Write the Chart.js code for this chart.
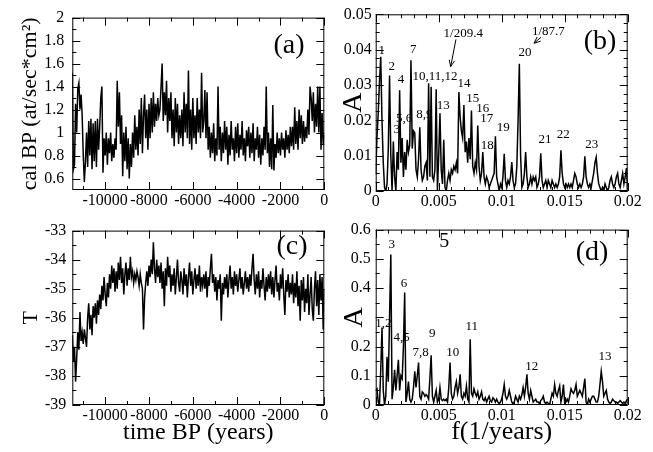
<!DOCTYPE html>
<html>
<head>
<meta charset="utf-8">
<script src="https://cdn.jsdelivr.net/npm/chart.js@4.4.1/dist/chart.umd.min.js"></script>
<style>
  body { margin: 0; background: #fff; }
  .panel { position: absolute; }
</style>
</head>
<body>
<div class="panel" style="left:0;top:0;width:330px;height:215px"><canvas id="chartA"></canvas></div>
<div class="panel" style="left:330px;top:0;width:323px;height:215px"><canvas id="chartB"></canvas></div>
<div class="panel" style="left:0;top:215px;width:330px;height:237px"><canvas id="chartC"></canvas></div>
<div class="panel" style="left:330px;top:215px;width:323px;height:237px"><canvas id="chartD"></canvas></div>
<script>
// time grid for (a) and (c): -11500 .. 0 every 50 years
const timeStart = -11500;
const timeStep = 50;
// frequency grid for (b) and (d): 0 .. 0.02 every 0.0001
const freqStep = 0.0001;

// (a) cal BP, at/sec*cm^2
const calBP = [
  1.52,0.68,0.72,1.25,1.0,1.38,1.43,1.2,1.33,1.15,0.8,0.57,0.75,1.0,0.7,1.1,0.8,1.12,0.68,1.08,
  0.75,1.1,0.7,1.12,0.85,1.05,1.3,1.4,0.65,0.95,0.8,1.0,0.72,0.95,0.82,1.0,0.75,0.9,0.78,0.95,
  0.85,1.45,1.05,1.35,0.9,1.15,0.62,1.0,0.75,1.05,0.68,0.95,0.6,0.9,0.7,1.0,0.78,1.15,0.85,1.05,
  0.8,1.2,0.9,1.3,0.82,1.15,1.33,0.95,1.2,0.85,1.25,0.95,1.3,1.0,1.35,1.05,1.25,1.1,1.3,1.15,
  1.2,1.4,1.6,1.1,1.35,1.15,1.45,1.0,1.3,1.1,1.35,0.95,1.2,0.88,1.3,1.0,1.25,0.9,1.15,0.95,
  1.2,0.88,1.35,1.0,1.25,0.95,1.54,0.9,1.2,0.85,1.3,0.95,1.15,0.9,1.3,1.0,1.2,0.95,1.52,1.0,
  1.1,1.37,0.95,1.35,0.85,1.05,0.78,1.0,0.82,1.08,0.75,0.95,0.8,1.4,0.85,1.05,0.75,1.0,0.82,1.1,
  0.85,1.05,0.72,0.98,0.8,1.1,0.85,0.95,0.75,1.05,0.82,1.08,0.78,0.98,0.85,1.1,0.8,0.95,0.75,1.02,
  0.88,1.05,0.78,1.0,0.82,1.08,0.75,0.95,0.85,1.05,0.78,0.98,0.72,0.95,0.8,1.05,0.85,1.4,0.82,1.0,
  0.7,0.95,0.68,1.24,0.67,0.9,0.78,1.0,0.82,0.95,0.8,1.0,0.85,0.95,0.78,1.02,0.85,0.98,0.82,1.05,
  0.88,1.05,0.85,1.22,0.9,1.1,0.85,1.2,0.95,1.15,0.9,1.1,0.92,1.05,0.95,1.2,0.98,1.4,1.3,1.1,
  1.35,1.0,1.25,1.05,1.4,1.0,1.4,0.85,1.17,0.9,0.98
];

// (c) temperature T
const tempT = [
  -36.6,-37.5,-37.0,-38.2,-37.4,-36.5,-37.1,-35.8,-36.8,-36.5,-36.9,-36.4,-36.7,-37.0,-36.0,-35.5,-36.4,-35.9,-36.6,-35.6,
  -36.0,-35.5,-36.2,-35.4,-35.9,-35.2,-35.7,-34.9,-35.4,-34.6,-35.2,-35.6,-34.8,-35.3,-34.5,-35.0,-34.2,-34.8,-34.3,-35.1,
  -34.4,-35.0,-34.1,-34.7,-33.9,-34.8,-34.3,-35.2,-34.5,-34.1,-34.9,-34.3,-34.7,-33.9,-34.6,-34.4,-34.8,-34.5,-34.7,-34.4,
  -34.6,-34.9,-34.5,-34.8,-35.0,-36.4,-35.3,-34.8,-34.4,-34.9,-34.2,-34.6,-34.0,-34.5,-33.4,-34.3,-34.8,-34.0,-34.6,-34.2,
  -34.8,-34.1,-35.0,-34.4,-35.6,-34.3,-34.9,-33.9,-34.6,-34.2,-35.1,-34.5,-34.9,-34.3,-35.2,-34.6,-34.0,-34.8,-35.1,-34.4,
  -34.7,-35.2,-34.3,-34.9,-34.5,-35.3,-34.6,-34.1,-34.9,-34.4,-35.2,-34.7,-34.3,-35.0,-34.5,-34.9,-34.2,-35.1,-34.6,-34.9,
  -34.5,-35.0,-34.4,-35.3,-34.6,-34.9,-34.3,-33.8,-34.8,-34.5,-35.1,-34.6,-35.4,-34.7,-35.0,-34.5,-36.1,-34.8,-35.2,-34.6,
  -35.0,-34.5,-35.3,-34.7,-34.2,-35.0,-34.6,-35.2,-34.4,-34.9,-34.5,-35.1,-34.7,-34.3,-35.0,-34.6,-35.2,-34.8,-34.4,-35.0,
  -34.6,-35.1,-34.5,-34.9,-34.3,-33.8,-34.7,-35.2,-34.5,-35.0,-34.4,-35.3,-34.7,-35.0,-34.3,-34.9,-35.4,-34.6,-35.1,-34.5,
  -35.0,-34.4,-35.2,-34.6,-35.3,-34.7,-34.2,-35.1,-34.8,-35.4,-34.5,-35.0,-34.3,-35.2,-35.9,-34.7,-35.1,-34.5,-35.3,-34.8,
  -35.2,-34.5,-35.5,-34.8,-35.3,-34.4,-35.6,-34.9,-36.1,-34.7,-35.4,-34.6,-35.8,-35.0,-35.5,-34.5,-35.9,-35.2,-34.6,-35.7,
  -36.1,-35.0,-34.4,-35.6,-34.7,-35.9,-34.5,-35.4,-34.6,-36.4,-35.0
];

// (b) amplitude spectrum of cal BP
const ampB = [
  0.005,0.015,0.022,0.031,0.038,0.02,0.008,0.001,0,0.002,
  0.012,0.0327,0.01,0,0.014,0.004,0,0.011,0.006,0.0285,
  0.008,0.015,0.004,0.011,0.006,0.0145,0.011,0.013,0.037,0.012,
  0.017,0.0165,0.006,0.004,0.009,0.018,0.006,0.003,0.004,0.007,
  0.008,0.003,0.0305,0.004,0.0295,0.004,0.003,0.006,0.0288,0,
  0.01,0.022,0.006,0.002,0.0145,0.001,0,0.003,0.005,0.003,
  0.006,0.005,0.007,0.006,0.008,0.005,0.028,0.021,0.017,0.015,
  0.0243,0.011,0.014,0.008,0.015,0.009,0.0228,0.007,0.005,0.008,
  0.006,0.0185,0.007,0.003,0.005,0.011,0.004,0.002,0.004,0.003,
  0.001,0.002,0.003,0.004,0.005,0.0155,0.004,0.002,0,0.002,
  0.001,0.004,0.0105,0.003,0.001,0.003,0.002,0.004,0.0082,0.003,
  0.001,0.002,0.007,0.02,0.036,0.01,0.001,0.002,0.005,0.011,
  0.004,0.001,0.002,0.004,0.002,0.004,0.003,0.004,0.001,0.002,
  0.004,0.0107,0.003,0.001,0.002,0.003,0.001,0.003,0.002,0.001,
  0.003,0.002,0.001,0.002,0.001,0.002,0.004,0.0115,0.005,0.002,
  0.001,0.002,0.001,0.002,0.001,0.002,0.001,0.003,0.005,0.004,
  0.002,0.001,0.002,0.001,0.002,0.004,0.0098,0.004,0.002,0.001,
  0.002,0.001,0.003,0.005,0.008,0.0095,0.005,0.002,0.001,0,
  0.001,0,0.002,0.001,0,0.001,0.003,0.004,0.002,0.001,
  0.002,0.004,0.005,0.002,0.001,0.003,0.005,0.002,0.004,0.0065,0
];

// (d) amplitude spectrum of T
const ampD = [
  0.05,0.055,0.01,0,0.12,0.265,0.05,0,0.03,0.165,
  0.08,0.3,0.515,0.02,0.06,0.12,0.05,0.1,0.155,0.05,
  0.1,0.09,0.2,0.385,0.01,0.04,0.08,0.02,0.01,0.02,
  0.06,0.115,0.06,0.1,0.145,0.03,0.02,0.045,0.04,0.03,
  0.035,0.03,0.02,0.09,0.17,0.03,0.01,0.03,0.05,0.01,
  0.02,0.06,0.02,0.015,0.02,0.015,0.02,0.01,0.06,0.145,
  0.04,0.02,0.03,0.06,0.08,0.04,0.06,0.105,0.03,0.02,
  0.04,0.03,0.065,0.02,0.01,0.225,0.04,0.03,0.055,0.04,
  0.03,0.045,0.02,0.03,0.045,0.02,0.015,0.025,0.01,0.02,
  0.03,0.015,0.01,0.025,0.02,0.01,0.02,0.01,0.005,0.01,
  0.02,0.04,0.07,0.03,0.02,0.03,0.05,0.03,0.01,0.005,
  0.01,0.03,0.02,0.01,0.03,0.02,0.035,0.06,0.03,0.06,
  0.105,0.04,0.02,0.05,0.03,0.01,0.015,0.02,0.01,0.01,
  0.005,0.015,0.02,0.03,0.01,0.005,0.01,0.005,0,0.02,
  0.04,0.03,0.07,0.04,0.03,0.05,0.065,0.01,0.03,0.07,
  0.005,0.01,0.02,0.01,0.03,0.055,0.045,0.04,0.05,0.07,
  0.03,0.04,0.05,0.04,0.03,0.06,0.09,0.01,0,0.02,
  0.01,0.02,0.03,0.03,0.02,0.01,0.01,0.03,0.07,0.115,
  0.08,0.03,0.04,0.05,0.02,0.01,0.005,0.01,0.02,0.015,
  0.01,0.01,0.005,0.01,0.015,0.01,0.005,0.01,0.005,0.015,0.02
];

// major tick values
const timeTicks = [-10000, -8000, -6000, -4000, -2000, 0];
const freqTicks = [0, 0.005, 0.01, 0.015, 0.02];
const calTicks = [0.6, 0.8, 1, 1.2, 1.4, 1.6, 1.8, 2];
const tempTicks = [-39, -38, -37, -36, -35, -34, -33];
const ampBTicks = [0, 0.01, 0.02, 0.03, 0.04, 0.05];
const ampDTicks = [0, 0.1, 0.2, 0.3, 0.4, 0.5, 0.6];

// peak labels: [text, frequency, amplitude]
const peaksB = [
  ['1', 0.00048, 0.0397], ['2', 0.00127, 0.0352], ['3', 0.00167, 0.0173], ['4', 0.00201, 0.0314],
  ['5,6', 0.00225, 0.0206], ['7', 0.00298, 0.0399], ['8,9', 0.00386, 0.0215], ['10,11,12', 0.00471, 0.0323],
  ['13', 0.00537, 0.0241], ['14', 0.00701, 0.0305], ['15', 0.0077, 0.0262], ['16', 0.00849, 0.0234],
  ['17', 0.00881, 0.0204], ['18', 0.00886, 0.0128], ['19', 0.01013, 0.018], ['20', 0.01185, 0.0391],
  ['21', 0.01344, 0.0146], ['22', 0.01489, 0.016], ['23', 0.01714, 0.013],
  ['1/209.4', 0.00695, 0.0446], ['1/87.7', 0.0137, 0.0451]
];
const peaksD = [
  ['1,2', 0.0006, 0.277], ['3', 0.00127, 0.549], ['4,5', 0.00206, 0.232], ['6', 0.00225, 0.417],
  ['7,8', 0.00357, 0.181], ['9', 0.00449, 0.243], ['10', 0.00611, 0.179], ['11', 0.00762, 0.268],
  ['12', 0.01238, 0.133], ['13', 0.0182, 0.164]
];

const serif = "'Liberation Serif', 'Times New Roman', serif";

const fmt = v => String(+v.toFixed(6));

// xmgrace style box: frame, inward major/minor ticks on all sides, text notes and arrows
const xmFrame = {
  id: 'xmFrame',
  afterDraw(chart, args, o) {
    const ctx = chart.ctx, a = chart.chartArea, xs = chart.scales.x, ys = chart.scales.y;
    ctx.save();
    ctx.strokeStyle = '#000';
    ctx.fillStyle = '#000';
    ctx.lineWidth = 1;

    (o.notes || []).forEach(n => {
      const px = xs.getPixelForValue(n.x), py = ys.getPixelForValue(n.y);
      ctx.font = n.size + 'px ' + serif;
      ctx.textAlign = 'center';
      ctx.textBaseline = 'middle';
      if (n.bg) {
        const w = ctx.measureText(n.text).width;
        ctx.fillStyle = '#fff';
        ctx.fillRect(px - w / 2 - 2, py - n.size * 0.55, w + 4, n.size * 1.1);
        ctx.fillStyle = '#000';
      }
      ctx.fillText(n.text, px, py);
    });

    (o.arrows || []).forEach(r => {
      const x1 = xs.getPixelForValue(r[0]), y1 = ys.getPixelForValue(r[1]);
      const x2 = xs.getPixelForValue(r[2]), y2 = ys.getPixelForValue(r[3]);
      const ang = Math.atan2(y2 - y1, x2 - x1), h = 7;
      ctx.beginPath();
      ctx.moveTo(x1, y1); ctx.lineTo(x2, y2);
      ctx.moveTo(x2 - h * Math.cos(ang - 0.4), y2 - h * Math.sin(ang - 0.4));
      ctx.lineTo(x2, y2);
      ctx.lineTo(x2 - h * Math.cos(ang + 0.4), y2 - h * Math.sin(ang + 0.4));
      ctx.stroke();
    });

    ctx.strokeRect(a.left + 0.5, a.top + 0.5, a.right - a.left - 1, a.bottom - a.top - 1);
    ctx.beginPath();
    const tickX = (v, len) => {
      const p = Math.round(xs.getPixelForValue(v)) + 0.5;
      ctx.moveTo(p, a.bottom); ctx.lineTo(p, a.bottom - len);
      ctx.moveTo(p, a.top); ctx.lineTo(p, a.top + len);
    };
    const tickY = (v, len) => {
      const p = Math.round(ys.getPixelForValue(v)) + 0.5;
      ctx.moveTo(a.left, p); ctx.lineTo(a.left + len, p);
      ctx.moveTo(a.right, p); ctx.lineTo(a.right - len, p);
    };
    const minors = (s, step, fn) => {
      const k0 = Math.ceil(s.min / step - 1e-9), k1 = Math.floor(s.max / step + 1e-9);
      for (let k = k0; k <= k1; k++) {
        const v = k * step;
        if (Math.abs(v - s.min) < step / 10 || Math.abs(v - s.max) < step / 10) continue;
        if (s.ticks.some(t => Math.abs(t.value - v) < step / 10)) continue;
        fn(v, 4);
      }
    };
    xs.ticks.forEach(t => tickX(t.value, 8));
    ys.ticks.forEach(t => tickY(t.value, 8));
    minors(xs, o.xMinor, tickX);
    minors(ys, o.yMinor, tickY);
    ctx.stroke();
    ctx.restore();
  }
};

function panel(id, points, c) {
  return new Chart(document.getElementById(id), {
    type: 'line',
    data: {
      datasets: [{
        data: points,
        borderColor: '#000',
        borderWidth: 1.5,
        pointRadius: 0,
        tension: 0
      }]
    },
    options: {
      animation: false,
      responsive: true,
      maintainAspectRatio: false,
      layout: { padding: c.pad },
      plugins: {
        legend: { display: false },
        tooltip: { enabled: false },
        xmFrame: c.frame
      },
      scales: {
        x: {
          type: 'linear',
          min: c.xMin,
          max: c.xMax,
          grid: { display: false, drawTicks: false },
          border: { display: false },
          afterBuildTicks: s => { s.ticks = c.xTicks.map(v => ({ value: v })); },
          afterFit: s => { s.height = c.xHeight; },
          ticks: {
            font: { family: serif, size: 16 },
            color: '#000',
            padding: 1,
            maxRotation: 0,
            autoSkip: false,
            callback: v => fmt(v)
          },
          title: c.xTitle ? {
            display: true,
            text: c.xTitle,
            color: '#000',
            font: { family: serif, size: c.xTitleSize },
            padding: { top: 0, bottom: c.xTitlePad }
          } : { display: false }
        },
        y: {
          type: 'linear',
          min: c.yMin,
          max: c.yMax,
          grid: { display: false, drawTicks: false },
          border: { display: false },
          afterBuildTicks: s => { s.ticks = c.yTicks.map(v => ({ value: v })); },
          afterFit: s => { s.width = c.yWidth; },
          ticks: {
            font: { family: serif, size: 16 },
            color: '#000',
            padding: c.yTickPad,
            autoSkip: false,
            callback: c.yFmt || (v => fmt(v))
          },
          title: {
            display: true,
            text: c.yTitle,
            color: '#000',
            font: { family: serif, size: c.yTitleSize },
            padding: { top: c.yTitlePad, bottom: 0 }
          }
        }
      }
    },
    plugins: [xmFrame]
  });
}

const timePoints = vals => vals.map((v, i) => ({ x: timeStart + i * timeStep, y: v }));
const freqPoints = vals => vals.map((v, i) => ({ x: i * freqStep, y: v }));
const peakNotes = list => list.map(p => ({ text: p[0], x: p[1], y: p[2], size: 13 }));

panel('chartA', timePoints(calBP), {
  pad: { left: 0, right: 5.7, top: 13.3, bottom: 0 },
  xMin: -11500, xMax: 0, xTicks: timeTicks, xHeight: 25,
  yMin: 0.5, yMax: 2, yTicks: calTicks, yWidth: 72.3, yTickPad: 8,
  yTitle: 'cal BP (at/sec*cm²)', yTitleSize: 22, yTitlePad: 17,
  frame: { xMinor: 1000, yMinor: 0.1,
    notes: [{ text: '(a)', x: -1611, y: 1.756, size: 28 }] }
});

panel('chartB', freqPoints(ampB), {
  pad: { left: 0, right: 25.3, top: 14.3, bottom: 0 },
  xMin: 0, xMax: 0.02, xTicks: freqTicks, xHeight: 24,
  yMin: 0, yMax: 0.05, yTicks: ampBTicks, yWidth: 45.7, yTickPad: 4,
  yTitle: 'A', yTitleSize: 28, yTitlePad: 7,
  frame: { xMinor: 0.001, yMinor: 0.0025,
    notes: peakNotes(peaksB).concat([{ text: '(b)', x: 0.0178, y: 0.0422, size: 28 }]),
    arrows: [[0.00637, 0.0429, 0.00595, 0.0352], [0.01312, 0.0435, 0.01256, 0.0418]] }
});

panel('chartC', timePoints(tempT), {
  pad: { left: 0, right: 5.7, top: 14.3, bottom: 0 },
  xMin: -11500, xMax: 0, xTicks: timeTicks, xHeight: 47,
  xTitle: 'time BP (years)', xTitleSize: 24, xTitlePad: 5,
  yMin: -39, yMax: -33, yTicks: tempTicks, yWidth: 72.3, yTickPad: 6,
  yTitle: 'T', yTitleSize: 22, yTitlePad: 18,
  frame: { xMinor: 1000, yMinor: 0.5,
    notes: [{ text: '(c)', x: -1474, y: -33.54, size: 28, bg: true }] }
});

panel('chartD', freqPoints(ampD), {
  pad: { left: 0, right: 25.3, top: 13.3, bottom: 0 },
  xMin: 0, xMax: 0.02, xTicks: freqTicks, xHeight: 47,
  xTitle: 'f(1/years)', xTitleSize: 26, xTitlePad: 4,
  yMin: 0, yMax: 0.6, yTicks: ampDTicks, yWidth: 45.7, yTickPad: 5,
  yFmt: v => (Math.abs(v - 0.3) < 1e-9 ? '' : fmt(v)),
  yTitle: 'A', yTitleSize: 28, yTitlePad: 8,
  frame: { xMinor: 0.001, yMinor: 0.05,
    notes: peakNotes(peaksD).concat([
      { text: '5', x: 0.00545, y: 0.56, size: 20 },
      { text: '(d)', x: 0.01717, y: 0.52, size: 28 }
    ]) }
});
</script>
</body>
</html>
